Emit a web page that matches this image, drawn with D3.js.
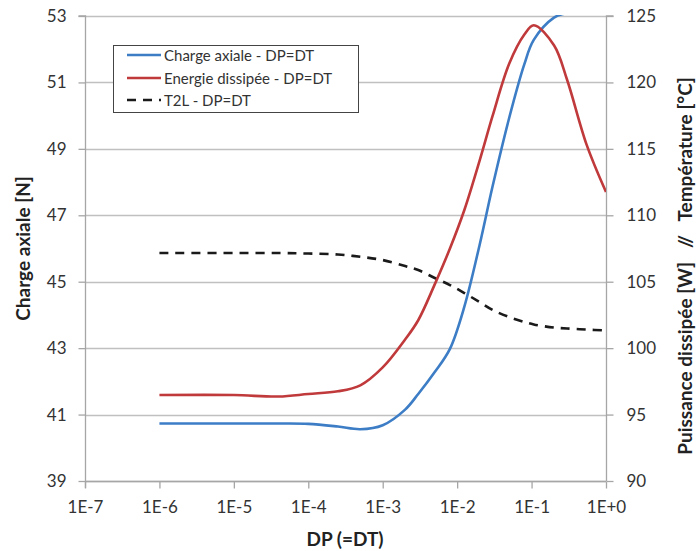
<!DOCTYPE html>
<html><head><meta charset="utf-8">
<script src="https://cdn.jsdelivr.net/npm/d3@7"></script>
<style>
html,body{margin:0;padding:0;background:#fff;}
svg{display:block;font-family:Lato,"Open Sans",sans-serif;}
</style></head>
<body>
<svg id="chart" width="698" height="551"></svg>
<script>
// DP (=DT) values
const dp = [1e-6, 1e-5, 4e-5, 1e-4, 2.5e-4, 5e-4, 1e-3, 2e-3, 3e-3, 5e-3, 8e-3, 1.25e-2, 2e-2, 3e-2, 5e-2, 8e-2, 0.107, 0.2, 0.3, 0.55, 1];
// Charge axiale [N] (left axis)
const chargeAxiale = [40.73, 40.73, 40.73, 40.72, 40.64, 40.56, 40.68, 41.15, 41.62, 42.28, 42.98, 44.25, 46.1, 47.88, 49.93, 51.55, 52.28, 52.95, 53.1, 53.3, 53.45];
// Energie dissipée [W] (right axis)
const energie = [96.47, 96.47, 96.36, 96.55, 96.75, 97.2, 98.55, 100.65, 102.1, 104.8, 107.5, 110.4, 114.1, 117.5, 121.4, 123.6, 124.3, 122.8, 120.2, 115.3, 111.75];
// T2L [°C] (right axis)
const t2l = [107.16, 107.16, 107.16, 107.12, 107.05, 106.88, 106.63, 106.18, 105.88, 105.28, 104.75, 104.15, 103.47, 102.87, 102.34, 101.97, 101.78, 101.55, 101.48, 101.4, 101.33];

const xTicks = [1e-7, 1e-6, 1e-5, 1e-4, 1e-3, 1e-2, 1e-1, 1];
const xTickLabels = ["1E-7", "1E-6", "1E-5", "1E-4", "1E-3", "1E-2", "1E-1", "1E+0"];
const leftTicks = [39, 41, 43, 45, 47, 49, 51, 53];
const rightTicks = [90, 95, 100, 105, 110, 115, 120, 125];
const seriesNames = ["Charge axiale - DP=DT", "Energie dissipée - DP=DT", "T2L - DP=DT"];
const colors = ["#3c7dc6", "#c0393b", "#1a1a1a"];

const L = 85, R = 606, T = 16, B = 481;
const svg = d3.select("#chart");

const x = d3.scaleLog().domain([1e-7, 1]).range([L, R]);
const yL = d3.scaleLinear().domain([39, 53]).range([B, T]);
const yR = d3.scaleLinear().domain([90, 125]).range([B, T]);

const gridCol = "#c0c0c0", axisCol = "#a6a6a6", textCol = "#333";

// gridlines
svg.append("g").selectAll("line").data(leftTicks).join("line")
  .attr("x1", L).attr("x2", R)
  .attr("y1", d => Math.round(yL(d)) + 0.5).attr("y2", d => Math.round(yL(d)) + 0.5)
  .attr("stroke", gridCol).attr("stroke-width", 1.3);

// left axis
const gl = svg.append("g").attr("transform", `translate(${L + 0.5},0)`)
  .call(d3.axisLeft(yL).tickValues(leftTicks).tickSize(7).tickPadding(12).tickFormat(d3.format("d")));
// right axis
const gr = svg.append("g").attr("transform", `translate(${R + 0.5},0)`)
  .call(d3.axisRight(yR).tickValues(rightTicks).tickSize(7).tickPadding(13).tickFormat(d3.format("d")));
// bottom axis
const gb = svg.append("g").attr("transform", `translate(0,${B + 0.5})`)
  .call(d3.axisBottom(x).tickValues(xTicks).tickSize(7).tickPadding(12).tickFormat((d, i) => xTickLabels[i]));

[gl, gr, gb].forEach(g => {
  g.select(".domain").attr("stroke", axisCol).attr("stroke-width", 1.3);
  g.selectAll(".tick line").attr("stroke", axisCol).attr("stroke-width", 1.3);
  g.selectAll(".tick text").attr("fill", textCol).style("font-size", "17px").style("font-family", "Lato, sans-serif");
});
gl.select(".domain").attr("d", `M-7,${T}H0V${B + 7}`);
gr.select(".domain").attr("d", `M7,${T}H0V${B}`);
gb.select(".domain").attr("d", `M${L},0H${R}`);

// clip
svg.append("clipPath").attr("id", "clip").append("rect")
  .attr("x", L).attr("y", T - 1).attr("width", R - L).attr("height", B - T + 1);

const data = dp.map((d, i) => ({ dp: d, c: chargeAxiale[i], e: energie[i], t: t2l[i] }));
const plot = svg.append("g").attr("clip-path", "url(#clip)");

const curve = d3.curveCatmullRom.alpha(0.5);
const lineC = d3.line().x(d => x(d.dp)).y(d => yL(d.c)).curve(curve);
const lineE = d3.line().x(d => x(d.dp)).y(d => yR(d.e)).curve(curve);
const lineT = d3.line().x(d => x(d.dp)).y(d => yR(d.t)).curve(curve);

plot.append("path").datum(data).attr("d", lineT).attr("fill", "none")
  .attr("stroke", colors[2]).attr("stroke-width", 2.6).attr("stroke-dasharray", "9,7");
plot.append("path").datum(data).attr("d", lineC).attr("fill", "none")
  .attr("stroke", colors[0]).attr("stroke-width", 2.6);
plot.append("path").datum(data).attr("d", lineE).attr("fill", "none")
  .attr("stroke", colors[1]).attr("stroke-width", 2.6);

// axis titles
svg.append("text").attr("transform", `translate(30,${(T + B) / 2}) rotate(-90)`)
  .attr("text-anchor", "middle").attr("fill", "#222")
  .style("font-size", "19px").style("font-weight", "bold").text("Charge axiale [N]");
svg.append("text").attr("transform", `translate(692,266) rotate(-90)`)
  .attr("text-anchor", "middle").attr("fill", "#222").attr("xml:space", "preserve")
  .style("font-size", "19px").style("font-weight", "bold").style("white-space", "pre")
  .text("Puissance dissipée [W]   //   Température [°C]");
svg.append("text").attr("x", 345).attr("y", 546)
  .attr("text-anchor", "middle").attr("fill", "#222")
  .style("font-size", "19px").style("font-weight", "bold").text("DP (=DT)");

// legend
const lg = svg.append("g");
lg.append("rect").attr("x", 113.5).attr("y", 45.5).attr("width", 245).attr("height", 67)
  .attr("fill", "#fff").attr("stroke", "#444").attr("stroke-width", 1);
const ly = [55, 78, 100];
seriesNames.forEach((name, i) => {
  lg.append("line").attr("x1", 127).attr("x2", 161).attr("y1", ly[i]).attr("y2", ly[i])
    .attr("stroke", colors[i]).attr("stroke-width", 2.6)
    .attr("stroke-dasharray", i === 2 ? "9,7" : null);
  lg.append("text").attr("x", 164).attr("y", ly[i] + 5.5).attr("fill", textCol)
    .style("font-size", "15px").text(name);
});
</script>
</body></html>
